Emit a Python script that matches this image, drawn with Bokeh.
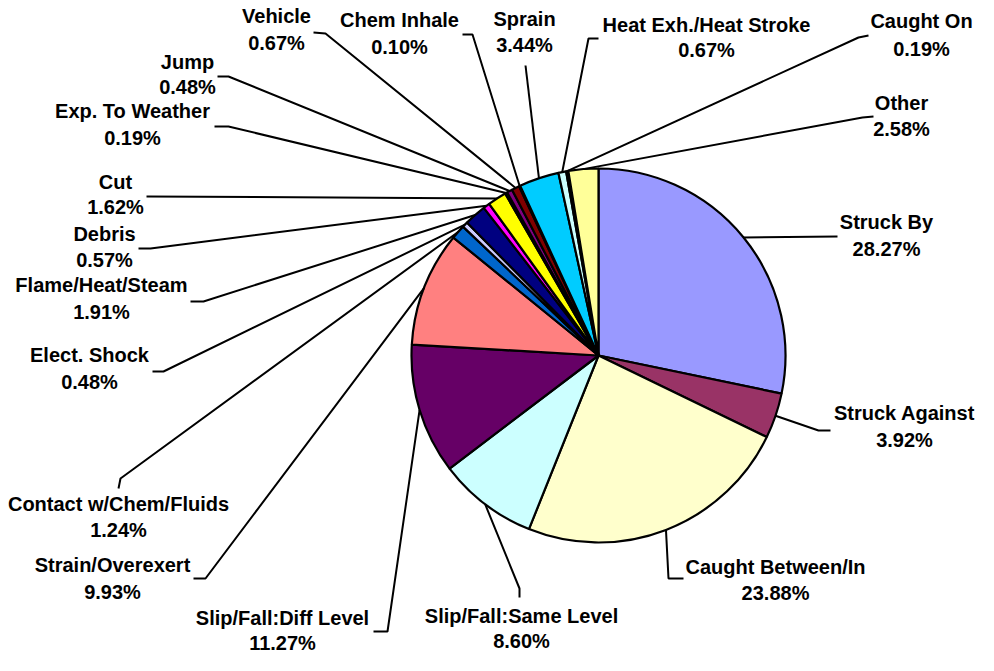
import math
from bokeh.plotting import figure
from bokeh.models import Range1d, ColumnDataSource
from bokeh.core.properties import value
from bokeh.embed import file_html
from bokeh.resources import INLINE

# ---------------- data ----------------
categories = ["Struck By", "Struck Against", "Caught Between/In", "Slip/Fall:Same Level",
              "Slip/Fall:Diff Level", "Strain/Overexert", "Contact w/Chem/Fluids",
              "Elect. Shock", "Flame/Heat/Steam", "Debris", "Cut", "Exp. To Weather",
              "Jump", "Vehicle", "Chem Inhale", "Sprain", "Heat Exh./Heat Stroke",
              "Caught On", "Other"]
percents = [28.27, 3.92, 23.88, 8.60, 11.27, 9.93, 1.24, 0.48, 1.91, 0.57, 1.62, 0.19,
            0.48, 0.67, 0.10, 3.44, 0.67, 0.19, 2.58]
colors = ["#9999FF", "#993366", "#FFFFCC", "#CCFFFF", "#660066", "#FF8080", "#0066CC",
          "#CCCCFF", "#000080", "#FF00FF", "#FFFF00", "#00FFFF", "#800080", "#800000",
          "#008080", "#00CCFF", "#CCFFFF", "#CCFFCC", "#FFFF99"]

# ---------------- layout (screen pixels, origin top-left) ----------------
W, H = 978, 655
TEXT_DY = 9  # correction of the rendered text baseline
def X(px): return px
def Y(py): return H - py

CX, CY, R = 598, 355, 187

# label centre x, name baseline y, pct baseline y
label_pos = [(886, 230, 257), (904, 421, 448), (775, 575, 601), (521, 624, 649),
             (282, 626, 651), (112, 573, 600), (118, 512, 538), (89, 363, 390),
             (101, 293, 320), (104, 242, 268), (115, 190, 215), (132, 119, 146),
             (187, 70, 95), (276, 24, 51), (399, 28, 55), (524, 27, 53),
             (706, 33, 58), (921, 29, 57), (901, 111, 137)]
# leader line: elbow point, end point
leaders = [((837, 236), (837, 236)), ((818, 430), (830, 430)), ((668, 578), (683, 578)),
           ((519, 588), (519, 597)), ((387, 631), (373, 631)), ((205, 578), (193, 578)),
           ((120, 478), (118, 488)), ((163, 371), (152, 371)), ((203, 301), (190, 301)),
           ((150, 248), (138, 248)), ((146, 196), (146, 196)), ((228, 126), (214, 126)),
           ((228, 76), (217, 76)), ((325, 33), (313, 32)), ((472, 34), (462, 34)),
           ((525, 65), (525, 65)), ((588, 38), (598, 38)), ((858, 37), (868, 35)),
           ((862, 117), (873, 116))]

total = sum(percents)
starts, ends, mids = [], [], []
cum = 0.0
for v in percents:
    a0 = math.pi / 2 - cum / total * 2 * math.pi
    cum += v
    a1 = math.pi / 2 - cum / total * 2 * math.pi
    starts.append(a0)
    ends.append(a1)
    mids.append((a0 + a1) / 2)

p = figure(width=W, height=H, output_backend="svg", toolbar_location=None,
           x_range=Range1d(0, W), y_range=Range1d(0, H),
           x_axis_type=None, y_axis_type=None, min_border=0)
p.outline_line_color = None
p.grid.visible = False
p.background_fill_color = "white"

src = ColumnDataSource(dict(start=starts, end=ends, color=colors))
p.wedge(x=X(CX), y=Y(CY), radius=R, start_angle="start", end_angle="end",
        direction="clock", fill_color="color", line_color="black", line_width=2.2,
        source=src)

xs, ys = [], []
for m, (elb, end) in zip(mids, leaders):
    sx = X(CX) + R * math.cos(m)
    sy = Y(CY) + R * math.sin(m)
    xs.append([sx, X(elb[0]), X(end[0])])
    ys.append([sy, Y(elb[1]), Y(end[1])])
p.multi_line(xs=xs, ys=ys, line_color="black", line_width=2)

lx = [X(a) for a, b, c in label_pos]
ly1 = [Y(b - TEXT_DY) for a, b, c in label_pos]
ly2 = [Y(c - TEXT_DY) for a, b, c in label_pos]
pct_text = [f"{v:.2f}%" for v in percents]
common = dict(text_font=value("Liberation Sans"), text_font_style="bold",
              text_font_size="20px", text_align="center", text_baseline="alphabetic",
              text_color="black")
p.text(x=lx, y=ly1, text=categories, **common)
p.text(x=lx, y=ly2, text=pct_text, **common)

open("out.html", "w").write(file_html(p, INLINE))
